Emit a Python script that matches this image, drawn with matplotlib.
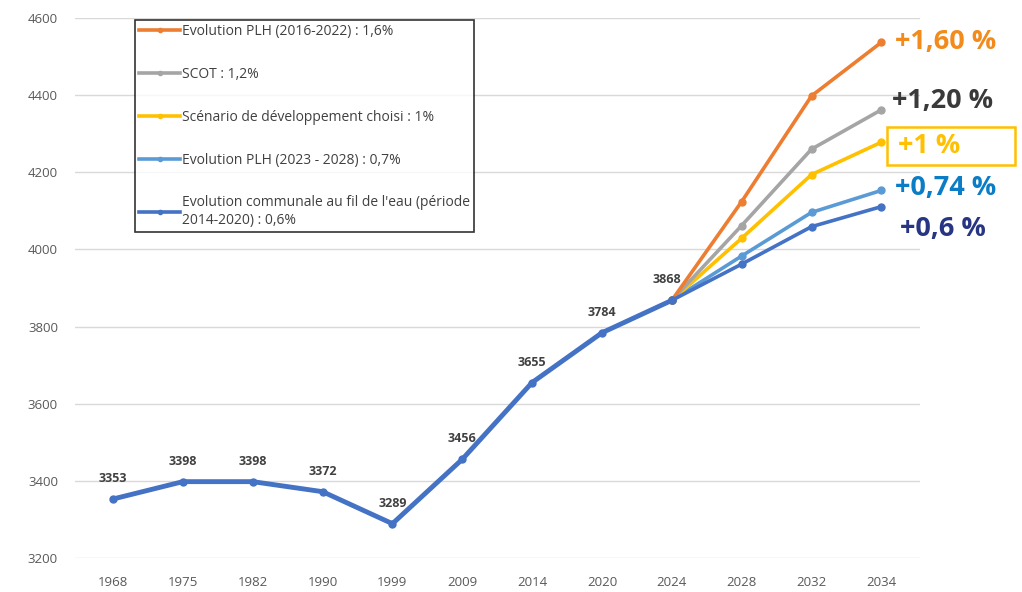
import matplotlib
matplotlib.use("Agg")
from matplotlib import pyplot as plt
from matplotlib.lines import Line2D
from matplotlib.patches import Rectangle

plt.rcParams['font.family'] = ['Open Sans', 'DejaVu Sans']

# categories and values
years = ['1968', '1975', '1982', '1990', '1999', '2009', '2014', '2020',
         '2024', '2028', '2032', '2034']
historic = [3353, 3398, 3398, 3372, 3289, 3456, 3655, 3784, 3868]
proj_years = ['2024', '2028', '2032', '2034']
plh_2016 = [3868, 4124, 4398, 4537]
scot = [3868, 4062, 4260, 4362]
choisi = [3868, 4029, 4194, 4278]
plh_2023 = [3868, 3983, 4096, 4153]
fil_eau = [3868, 3962, 4059, 4111]

labels = ['Evolution PLH (2016-2022) : 1,6%',
          'SCOT : 1,2%',
          'Scénario de développement choisi : 1%',
          'Evolution PLH (2023 - 2028) : 0,7%',
          "Evolution communale au fil de l'eau (période\n2014-2020) : 0,6%"]
colors = ['#ED7D31', '#A5A5A5', '#FFC000', '#5B9BD5', '#4472C4']
end_texts = ['+1,60 %', '+1,20 %', '+1 %', '+0,74 %', '+0,6 %']
end_colors = ['#F28A1C', '#3A3A3A', '#FFC000', '#0B7CC6', '#283583']

fig = plt.figure(figsize=(10.22, 5.92), dpi=100)
ax = fig.add_axes([0.073, 0.0574, 0.827, 0.9122])

xi = {y: i for i, y in enumerate(years)}
px = [xi[y] for y in proj_years]

# main historic line
ax.plot(range(len(historic)), historic, color='#4472C4', lw=3.5,
        marker='o', ms=5, zorder=6)

series = [plh_2016, scot, choisi, plh_2023, fil_eau]
for vals, c, z in zip(series, colors, [5, 4, 3, 2, 6]):
    ax.plot(px, vals, color=c, lw=2.6, marker='o', ms=5, zorder=z)

for i, v in enumerate(historic):
    dx = -0.07 if i == 8 else 0
    ax.annotate(str(v), (i + dx, v), xytext=(0, 10), textcoords='offset points',
                ha='center', va='bottom', fontsize=9, fontweight='bold',
                color='#404040', zorder=7)

ax.set_ylim(3200, 4600)
ax.set_xlim(-0.55, 11.55)
ax.set_yticks(range(3200, 4601, 200))
ax.set_xticks(range(len(years)))
ax.set_xticklabels(years)
ax.grid(axis='y', color='#D9D9D9', lw=1)
ax.set_axisbelow(True)
for s in ax.spines.values():
    s.set_visible(False)
ax.tick_params(length=0, labelsize=9.5, colors='#595959')
ax.tick_params(axis='y', pad=12)
ax.tick_params(axis='x', pad=13)

# legend
handles = [Line2D([0], [0], color=c, lw=2.6, marker='o', ms=3) for c in colors]
leg = ax.legend(handles, labels, loc='upper left', bbox_to_anchor=(0.071, 0.996),
                frameon=True, fancybox=False, fontsize=10, handlelength=3.0,
                handletextpad=0.1, labelspacing=2.0, borderpad=0.3,
                borderaxespad=0, labelcolor='#404040')
leg.get_frame().set_edgecolor('black')
leg.get_frame().set_linewidth(1.2)

# annotations at the right
end_vals = [4537, 4385, 4268, 4159, 4053]
end_x = [11.2, 11.15, 11.24, 11.2, 11.27]
for t, c, v, x in zip(end_texts, end_colors, end_vals, end_x):
    ax.text(x, v, t, color=c, fontsize=19.5, fontweight='bold', ha='left',
            va='center', clip_on=False)
ax.add_patch(Rectangle((11.08, 4219), 1.83, 98, fill=False, edgecolor='#FFC000',
                       lw=1.8, clip_on=False))

fig.savefig('out.png', dpi=100)
